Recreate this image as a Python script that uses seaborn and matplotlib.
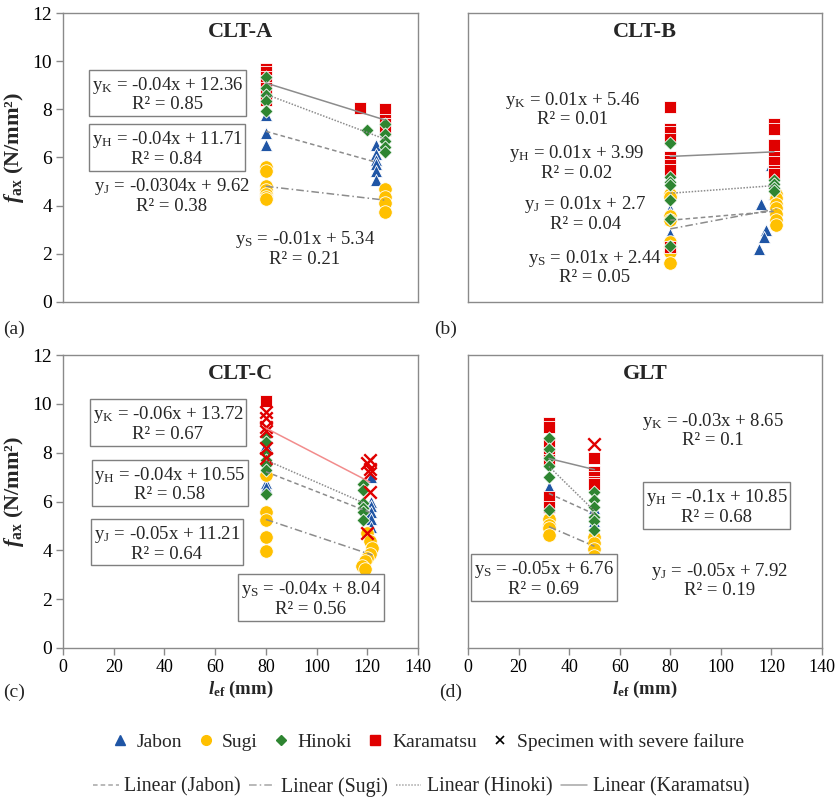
import numpy as np
import pandas as pd
import matplotlib
matplotlib.use("Agg")
from matplotlib import pyplot as plt
from matplotlib.lines import Line2D
import seaborn as sns

#========================= DATA =========================
species = ["Jabon", "Sugi", "Hinoki", "Karamatsu"]
panels = ["CLT-A", "CLT-B", "CLT-C", "GLT"]

# CLT-A
a_jabon_x = [80, 80, 80, 123.5, 123.5, 123.5, 123.5, 123.5, 123.5]
a_jabon_y = [7.76, 7.0, 6.5, 6.5, 6.15, 5.88, 5.75, 5.46, 5.08]
a_sugi_x = [80, 80, 80, 80, 80, 80, 80, 127, 127, 127, 127]
a_sugi_y = [5.6, 5.45, 4.8, 4.65, 4.5, 4.35, 4.28, 4.7, 4.36, 4.12, 3.74]
a_hinoki_x = [80, 80, 80, 80, 80, 120, 127, 127, 127, 127, 127]
a_hinoki_y = [9.35, 8.88, 8.6, 8.36, 7.92, 7.14, 7.39, 6.98, 6.7, 6.43, 6.22]
a_kara_x = [80, 80, 80, 80, 80, 80, 80, 117, 127, 127, 127, 127]
a_kara_y = [9.67, 9.53, 9.35, 9.18, 8.9, 8.6, 8.4, 8.05, 8.0, 7.56, 7.39, 7.15]
a_fail_x, a_fail_y = [], []

# CLT-B
b_jabon_x = [80, 80, 80, 80, 120, 121, 116, 118, 117, 115]
b_jabon_y = [3.88, 3.7, 3.45, 2.84, 5.67, 4.5, 4.05, 2.98, 2.7, 2.22]
b_sugi_x = [80, 80, 80, 80, 80, 80, 80, 80, 122, 122, 122, 122, 122, 122, 122]
b_sugi_y = [4.5, 4.35, 3.56, 3.4, 2.5, 2.3, 2.08, 1.6, 4.5, 4.3, 4.08, 3.9, 3.67, 3.39, 3.18]
b_hinoki_x = [80, 80, 80, 80, 80, 80, 80, 121, 121, 121, 121]
b_hinoki_y = [6.59, 5.18, 5.0, 4.84, 4.22, 3.46, 2.32, 5.08, 4.9, 4.75, 4.6]
b_kara_x = [80, 80, 80, 80, 80, 80, 80, 80, 80, 121, 121, 121, 121, 121, 121, 121]
b_kara_y = [8.08, 7.18, 7.05, 6.77, 6.01, 5.85, 5.67, 5.5, 2.29, 7.39, 7.18, 6.5, 6.01, 5.8, 5.46, 5.3]
b_fail_x, b_fail_y = [], []

# CLT-C
c_jabon_x = [80, 80, 80, 121.5, 121.5, 121.5, 121.5, 121.5, 121.5, 121.5]
c_jabon_y = [8.31, 6.74, 6.61, 7.02, 6.0, 5.8, 5.58, 5.3, 4.97, 4.08]
c_sugi_x = [80, 80, 80, 80, 80, 120, 121, 122, 121, 120, 119, 118, 119]
c_sugi_y = [7.08, 5.58, 5.24, 4.53, 3.98, 4.72, 4.4, 4.1, 3.85, 3.7, 3.55, 3.35, 3.25]
c_hinoki_x = [80, 80, 80, 80, 80, 80, 80, 118.5, 118.5, 118.5, 118.5, 118.5, 118.5]
c_hinoki_y = [8.7, 8.45, 7.97, 7.7, 7.49, 7.29, 6.29, 6.72, 6.47, 5.93, 5.75, 5.58, 5.24]
c_kara_x = [80]
c_kara_y = [10.1]
c_fail_x = [80, 80, 80, 80, 80, 80, 121, 120, 121, 121, 121, 120]
c_fail_y = [9.68, 9.4, 9.06, 8.9, 8.18, 7.77, 7.7, 7.56, 7.35, 7.15, 6.4, 4.7]

# GLT
d_jabon_x = [32, 32, 50, 50, 50]
d_jabon_y = [6.61, 6.05, 5.75, 5.5, 5.2]
d_sugi_x = [32, 32, 32, 32, 50, 50, 50, 50]
d_sugi_y = [5.3, 5.05, 4.9, 4.63, 4.56, 4.29, 4.04, 3.77]
d_hinoki_x = [32, 32, 32, 32, 32, 32, 50, 50, 50, 50, 50, 50]
d_hinoki_y = [8.59, 8.14, 7.77, 7.45, 7.02, 5.65, 6.4, 6.06, 5.79, 5.38, 5.2, 4.83]
d_kara_x = [32, 32, 32, 32, 32, 32, 32, 50, 50, 50, 50, 50]
d_kara_y = [9.2, 9.06, 8.38, 8.0, 7.7, 6.2, 5.79, 7.77, 7.22, 7.0, 6.81, 6.7]
d_fail_x = [50]
d_fail_y = [8.35]

# trend line equations printed on each panel (K, H, J, S)
a_eqs = ["-0.04x + 12.36", "-0.04x + 11.71", "-0.0304x + 9.62", "-0.01x + 5.34"]
a_r2 = ["0.85", "0.84", "0.38", "0.21"]
b_eqs = ["0.01x + 5.46", "0.01x + 3.99", "0.01x + 2.7", "0.01x + 2.44"]
b_r2 = ["0.01", "0.02", "0.04", "0.05"]
c_eqs = ["-0.06x + 13.72", "-0.04x + 10.55", "-0.05x + 11.21", "-0.04x + 8.04"]
c_r2 = ["0.67", "0.58", "0.64", "0.56"]
d_eqs = ["-0.03x + 8.65", "-0.1x + 10.85", "-0.05x + 7.92", "-0.05x + 6.76"]
d_r2 = ["0.1", "0.68", "0.19", "0.69"]
eq_keys = ["K", "H", "J", "S"]

#========================= build tables =========================
def make_df(rows):
    frames = []
    for sp, xs, ys, fail in rows:
        frames.append(pd.DataFrame({"lef": xs, "fax": ys, "species": sp, "failed": fail}))
    return pd.concat(frames, ignore_index=True)

data = {
    "CLT-A": make_df([("Jabon", a_jabon_x, a_jabon_y, False), ("Sugi", a_sugi_x, a_sugi_y, False),
                      ("Hinoki", a_hinoki_x, a_hinoki_y, False), ("Karamatsu", a_kara_x, a_kara_y, False),
                      ("Karamatsu", a_fail_x, a_fail_y, True)]),
    "CLT-B": make_df([("Jabon", b_jabon_x, b_jabon_y, False), ("Sugi", b_sugi_x, b_sugi_y, False),
                      ("Hinoki", b_hinoki_x, b_hinoki_y, False), ("Karamatsu", b_kara_x, b_kara_y, False),
                      ("Karamatsu", b_fail_x, b_fail_y, True)]),
    "CLT-C": make_df([("Jabon", c_jabon_x, c_jabon_y, False), ("Sugi", c_sugi_x, c_sugi_y, False),
                      ("Hinoki", c_hinoki_x, c_hinoki_y, False), ("Karamatsu", c_kara_x, c_kara_y, False),
                      ("Karamatsu", c_fail_x, c_fail_y, True)]),
    "GLT": make_df([("Jabon", d_jabon_x, d_jabon_y, False), ("Sugi", d_sugi_x, d_sugi_y, False),
                    ("Hinoki", d_hinoki_x, d_hinoki_y, False), ("Karamatsu", d_kara_x, d_kara_y, False),
                    ("Karamatsu", d_fail_x, d_fail_y, True)]),
}
equations = {"CLT-A": (a_eqs, a_r2), "CLT-B": (b_eqs, b_r2), "CLT-C": (c_eqs, c_r2), "GLT": (d_eqs, d_r2)}

#========================= style =========================
sns.set_style("white")
plt.rcParams["font.family"] = ["Liberation Serif", "DejaVu Serif"]
plt.rcParams["mathtext.fontset"] = "custom"
plt.rcParams["mathtext.rm"] = "Liberation Serif"
plt.rcParams["mathtext.it"] = "Liberation Serif:italic"
plt.rcParams["mathtext.bf"] = "Liberation Serif:bold"
plt.rcParams["mathtext.bfit"] = "Liberation Serif:italic:bold"

colors = {"Jabon": "#1F55A5", "Sugi": "#FFC000", "Hinoki": "#2E8531", "Karamatsu": "#E00000"}
markers = {"Jabon": "^", "Sugi": "o", "Hinoki": "D", "Karamatsu": "s"}
msize = {"Jabon": 75, "Sugi": 95, "Hinoki": 45, "Karamatsu": 75}
lstyle = {"Jabon": (0, (3, 2)), "Sugi": (0, (5, 2, 1, 2)), "Hinoki": (0, (1, 1)), "Karamatsu": "-"}
draw_order = ["Jabon", "Sugi", "Karamatsu", "Hinoki"]
grey = "#8C8C8C"
spine_c = "#8A8A8A"

# text layout: (x, y, boxed) for K, H, J, S
eq_layout = {
    "CLT-A": [(41.4, 8.64, True), (41, 6.37, True), (43, 4.43, False), (95.4, 2.22, False)],
    "CLT-B": [(41.5, 8.01, False), (43, 5.8, False), (46.3, 3.67, False), (50.2, 1.46, False)],
    "CLT-C": [(41.4, 9.2, True), (42.2, 6.72, True), (41, 4.29, True), (97.7, 2.03, True)],
    "GLT": [(96.9, 8.93, False), (98.3, 5.79, True), (99.6, 2.78, False), (30, 2.85, True)],
}

W, H = 839, 799
fig = plt.figure(figsize=(W / 100, H / 100), dpi=100)
ax_pos = {
    "CLT-A": (63, 13, 418, 302),
    "CLT-B": (468, 13, 822, 302),
    "CLT-C": (63, 355, 418, 648),
    "GLT": (468, 355, 822, 648),
}

for name in panels:
    l, t, r, b = ax_pos[name]
    ax = fig.add_axes([l / W, 1 - b / H, (r - l) / W, (b - t) / H])
    df = data[name]
    for sp in draw_order:
        sub = df[(df.species == sp) & (~df.failed)]
        if len(sub):
            sns.scatterplot(data=sub, x="lef", y="fax", marker=markers[sp], color=colors[sp],
                            s=msize[sp], edgecolor="white", linewidth=0.6, ax=ax, zorder=3)
    fail = df[df.failed]
    if len(fail):
        sns.scatterplot(data=fail, x="lef", y="fax", marker="x", color=colors["Karamatsu"],
                        s=80, linewidth=1.7, ax=ax, zorder=4)
    for sp in species:
        sub = df[df.species == sp]
        lc = "#F28C8C" if (name == "CLT-C" and sp == "Karamatsu") else grey
        sns.regplot(data=sub, x="lef", y="fax", scatter=False, ci=None, ax=ax,
                    line_kws=dict(color=lc, ls=lstyle[sp], lw=1.1, zorder=5))

    eqs, r2s = equations[name]
    for key, eq, r2, (tx, ty, boxed) in zip(eq_keys, eqs, r2s, eq_layout[name]):
        s = "y$_{\\mathrm{" + key + "}}$ = " + eq + "\nR² = " + r2
        bbox = dict(boxstyle="square,pad=0.15", fc="white", ec="#7F7F7F", lw=1.0) if boxed else None
        ax.text(tx, ty, s, ha="center", va="center", fontsize=13.5, linespacing=1.05,
                bbox=bbox, zorder=6)

    ax.text(0.5, 0.935, name, transform=ax.transAxes, ha="center", va="center",
            fontsize=16, fontweight="bold")

    ax.set_xlim(0, 140)
    ax.set_ylim(0, 12)
    ax.set_xticks(np.arange(0, 141, 20))
    ax.set_yticks(np.arange(0, 13, 2))
    for sp_ in ax.spines.values():
        sp_.set_color(spine_c)
        sp_.set_linewidth(1.0)
    ax.tick_params(axis="both", colors=spine_c, labelcolor="black",
                   length=5, width=1.0, direction="out", pad=3)
    ax.tick_params(axis="x", labelsize=13)
    ax.tick_params(axis="y", labelsize=14)
    ax.set_xlabel("")
    ax.set_ylabel("")
    if name in ("CLT-A", "CLT-B"):
        ax.tick_params(axis="x", bottom=False, labelbottom=False)
    else:
        ax.tick_params(axis="x", bottom=True)
        ax.set_xlabel("$\\mathbfit{l}_{\\mathbf{ef}}$ (mm)", fontsize=13.5, fontweight="bold", labelpad=2)
    if name in ("CLT-B", "GLT"):
        ax.tick_params(axis="y", left=False, labelleft=False)
    else:
        ax.tick_params(axis="y", left=True)
        ax.set_ylabel("$\\mathbfit{f}_{\\mathbf{ax}}$ (N/mm²)", fontsize=16, fontweight="bold")
        ax.yaxis.set_label_coords(-0.105, 0.535)

# panel letters
for lab, px, py in [("(a)", 3, 329), ("(b)", 434, 329), ("(c)", 3, 692), ("(d)", 439, 692)]:
    fig.text(px / W, 1 - py / H, lab, ha="left", va="center", fontsize=14)

# legends
mk_handles = [Line2D([], [], ls="", marker=markers[sp], color=colors[sp], markersize=7 if sp != "Hinoki" else 5.5)
              for sp in species]
mk_handles.append(Line2D([], [], ls="", marker="x", color="black", markersize=6, mew=1.2))
mk_labels = species + ["Specimen with severe failure"]
fig.legend(mk_handles, mk_labels, loc="center", bbox_to_anchor=(428 / W, 1 - 742 / H), ncol=5,
           frameon=False, fontsize=14, handlelength=0.8, handletextpad=0.45, columnspacing=0.8,
           borderpad=0, borderaxespad=0)
ln_handles = [Line2D([], [], color="#A6A6A6", ls=lstyle[sp], lw=1.1) for sp in species]
ln_labels = ["Linear (" + sp + ")" for sp in species]
fig.legend(ln_handles, ln_labels, loc="center", bbox_to_anchor=(421 / W, 1 - 787 / H), ncol=4,
           frameon=False, fontsize=14.3, handlelength=1.3, handletextpad=0.3, columnspacing=0.4,
           borderpad=0, borderaxespad=0)

plt.savefig("out.png", dpi=100)
